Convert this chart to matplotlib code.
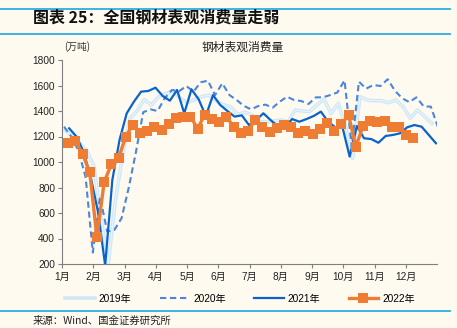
import matplotlib
matplotlib.use("Agg")
import matplotlib.pyplot as plt
import numpy as np

plt.rcParams['font.family'] = ['Liberation Sans', 'Noto Sans CJK SC', 'DejaVu Sans']

months = ["1月", "2月", "3月", "4月", "5月", "6月", "7月", "8月", "9月", "10月", "11月", "12月"]
yticks = [200, 400, 600, 800, 1000, 1200, 1400, 1600, 1800]

# weekly data; first day of year (0-based) of first weekly observation
start_2019, start_2020, start_2021, start_2022 = 3, 2, 7, 6

v2019 = [1251, 1200, 1150, 1090, 970, 560, 200, 700, 1050, 1340, 1400, 1490, 1447, 1512,
         1535, 1560, 1500, 1465, 1490, 1512, 1525, 1480, 1450, 1434, 1372, 1390, 1369, 1316,
         1316, 1322, 1329, 1316, 1408, 1400, 1395, 1447, 1492, 1382, 1460, 1277, 1029, 1512,
         1486, 1481, 1481, 1465, 1486, 1434, 1343, 1408, 1356, 1303]
v2020 = [1277, 1199, 1090, 880, 290, 728, 455, 467, 560, 800, 1080, 1390, 1413, 1400,
         1500, 1565, 1555, 1596, 1552, 1625, 1638, 1525, 1617, 1525, 1486, 1440, 1413, 1439,
         1450, 1426, 1473, 1512, 1486, 1478, 1455, 1507, 1507, 1525, 1545, 1640, 1120, 1630,
         1575, 1604, 1596, 1649, 1560, 1500, 1470, 1507, 1437, 1434, 1272]
v2021 = [1264, 1200, 1080, 880, 610, 190, 859, 1173, 1382, 1473, 1552, 1557, 1583, 1518,
         1481, 1565, 1382, 1570, 1492, 1361, 1525, 1447, 1400, 1356, 1366, 1290, 1329, 1382,
         1329, 1282, 1272, 1337, 1316, 1337, 1361, 1395, 1316, 1272, 1272, 1042, 1282, 1186,
         1180, 1151, 1204, 1212, 1225, 1272, 1290, 1277, 1212, 1147]
v2022 = [1147, 1167, 1063, 919, 409, 841, 982, 1029, 1199, 1293, 1230, 1246, 1277, 1251,
         1300, 1343, 1350, 1356, 1262, 1372, 1335, 1314, 1354, 1277, 1230, 1246, 1329, 1272,
         1238, 1264, 1290, 1277, 1225, 1246, 1217, 1256, 1303, 1243, 1298, 1369, 1120, 1282,
         1322, 1314, 1324, 1272, 1277, 1212, 1191]

DAYS_PER_MONTH = 365 / 12.0

def xs(start, n):
    return (start + 7 * np.arange(n)) / DAYS_PER_MONTH

bg = '#fefaf0'
fig = plt.figure(figsize=(4.57, 3.28), dpi=100, facecolor=bg)
W, H = 457, 328
ax = fig.add_axes([62 / W, 1 - 264 / H, 375 / W, 204 / H], facecolor=bg)

ax.plot(xs(start_2019, len(v2019)), v2019, color='#cfe7f7', lw=2.6, label='2019年', zorder=2)
ax.plot(xs(start_2019, len(v2019)), v2019, color='#eaf5fc', lw=0.8, zorder=2)
ax.plot(xs(start_2020, len(v2020)), v2020, color='#4a86dc', lw=1.5, ls=(0, (3, 1.8)), label='2020年', zorder=3)
ax.plot(xs(start_2021, len(v2021)), v2021, color='#0a63c9', lw=1.6, label='2021年', zorder=4)
ax.plot(xs(start_2022, len(v2022)), v2022, color='#ee7d33', lw=2.4, marker='s', ms=6.8,
        markeredgewidth=0, label='2022年', zorder=5)

ax.set_xlim(0, 12)
ax.set_ylim(200, 1800)
ax.set_yticks(yticks)
ax.set_xticks(np.arange(12))
ax.set_xticklabels(months)
for s in ['top', 'right']:
    ax.spines[s].set_visible(False)
for s in ['left', 'bottom']:
    ax.spines[s].set_color('#7f7f7f')
    ax.spines[s].set_linewidth(0.8)
ax.tick_params(axis='both', colors='#7f7f7f', labelcolor='#222222', labelsize=7.3, length=3, width=0.8)
ax.tick_params(axis='x', pad=3)
ax.tick_params(axis='y', pad=2)

leg = ax.legend(loc='center', bbox_to_anchor=(240 / W, 1 - 299 / H), bbox_transform=fig.transFigure,
                ncol=4, frameon=False, fontsize=7.3, handlelength=2.9, columnspacing=2.8,
                handletextpad=0.4)

fig.text(33 / W, 1 - 18 / H, "图表 25：全国钢材表观消费量走弱", fontsize=11.5, fontweight='bold',
         va='center', ha='left', color='#111111', family=['Noto Sans CJK SC', 'DejaVu Sans'])
fig.text(243 / W, 1 - 47 / H, "钢材表观消费量", fontsize=8.5, va='center', ha='center', color='#222222',
         family=['Noto Sans CJK SC', 'DejaVu Sans'])
fig.text(77 / W, 1 - 47 / H, "(万吨)", fontsize=7, va='center', ha='center', color='#333333',
         family=['Noto Sans CJK SC', 'DejaVu Sans'])
fig.text(33 / W, 1 - 321 / H, "来源：Wind、国金证券研究所", fontsize=7.5, va='center', ha='left',
         color='#222222', family=['Noto Sans CJK SC', 'DejaVu Sans'])

line_color = '#2aaee6'
for yy in [8.5, 33.5, 311]:
    fig.add_artist(plt.Line2D([0, 450 / W], [1 - yy / H, 1 - yy / H], transform=fig.transFigure,
                              color=line_color, lw=1.3))

fig.savefig('out.png', dpi=100, facecolor=bg)
